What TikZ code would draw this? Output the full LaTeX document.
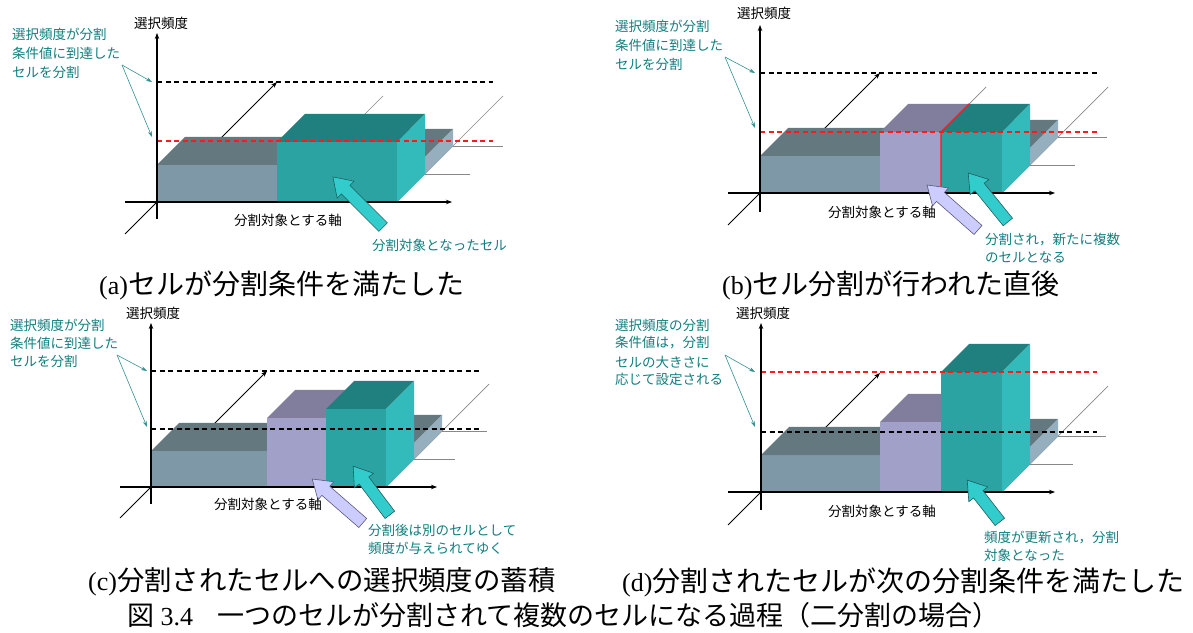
\documentclass[tikz,border=0pt]{standalone}
\usepackage{fontspec}
\setmainfont{Liberation Serif}
\newfontfamily\jp{Noto Sans CJK JP}
\usetikzlibrary{arrows.meta}
\definecolor{grayfront}{HTML}{7F98A8}
\definecolor{graytop}{HTML}{647880}
\definecolor{grayside}{HTML}{96AFBF}
\definecolor{tealfront}{HTML}{2CA3A3}
\definecolor{tealtop}{HTML}{207F7F}
\definecolor{tealside}{HTML}{33BBBB}
\definecolor{lavfront}{HTML}{A0A0C8}
\definecolor{lavtop}{HTML}{807E9C}
\definecolor{labteal}{HTML}{137E7E}
\definecolor{arrteal}{HTML}{33CCCC}
\definecolor{arrlav}{HTML}{CCCCFF}
\definecolor{tealdark}{HTML}{1D5F5F}
\definecolor{lavdark}{HTML}{5A5A7A}
\definecolor{gridgray}{HTML}{888888}
\definecolor{redline}{HTML}{FF1A1A}
\newcommand\cuboid[7]{%
 \fill[#5] ({#1+#4},{#4}) rectangle ({#2+#4},{#4+#3});
 \fill[#6] ({#1+#4},{#4+#3}) -- ({#1+#4+28},{#4+#3+28}) -- ({#2+#4+28},{#4+#3+28}) -- ({#2+#4},{#4+#3}) -- cycle;
 \fill[#7] ({#2+#4},{#4}) -- ({#2+#4+28},{#4+28}) -- ({#2+#4+28},{#4+#3+28}) -- ({#2+#4},{#4+#3}) -- cycle;}
% fat block arrow: centre x, centre y, angle, length, fill, outline
\newcommand\fatarr[6]{%
 \begin{scope}[shift={(#1,#2)},rotate=#3]
  \filldraw[fill=#5,draw=#6,line width=0.6pt,line join=miter] ({#4/2},0) -- ({#4/2-18},12) -- ({#4/2-18},6) -- ({-#4/2},6) -- ({-#4/2},-6) -- ({#4/2-18},-6) -- ({#4/2-18},-12) -- cycle;
 \end{scope}}
\newcommand\capt[3]{{\fontsize{26}{30}\selectfont #1}{\jp\fontsize{#3}{30}\selectfont #2}}
\tikzset{
 axisline/.style={line width=1.6pt,-{Stealth[length=6pt,width=4.5pt]}},
 depthaxis/.style={line width=1pt,-{Stealth[length=6pt,width=4.5pt]}},
 gridline/.style={gridgray,line width=0.7pt},
 dashblk/.style={dash pattern=on 5pt off 3.5pt,line width=1.1pt,black},
 dashrd/.style={dash pattern=on 5pt off 3.5pt,line width=1.1pt,redline},
 tarrow/.style={labteal!85,line width=0.6pt,-{Stealth[length=6pt,width=4pt]}},
 smalltxt/.style={font=\jp\fontsize{13.5}{16}\selectfont,inner sep=0pt},
 labtxt/.style={smalltxt,text=labteal,anchor=west},
 captxt/.style={inner sep=0pt,anchor=west}
}
\begin{document}
\begin{tikzpicture}[x=1pt,y=1pt]
\fill[white] (0,0) rectangle (1193,632);
\useasboundingbox (0,0) rectangle (1193,632);

% ---------- panel (a)
\begin{scope}[shift={(157,430)}]
 \draw[gridline] (120,0) -- (226,106);
 \draw[gridline] (240,0) -- (346,106);
 \draw[gridline] (268,28) -- (313,28);
 \draw[gridline] (296,56) -- (346,56);
 \draw[depthaxis] (-32,-32) -- (120,120);
 \cuboid{120}{240}{17}{28}{grayfront}{graytop}{grayside}
 \cuboid{0}{120}{37}{0}{grayfront}{graytop}{grayside}
 \cuboid{120}{240}{60}{0}{tealfront}{tealtop}{tealside}
 \draw[dashblk] (0,120) -- (336,120);
 \draw[dashrd] (0,61) -- (336,61);
 \draw[axisline] (0,-17) -- (0,169);
 \draw[axisline] (-32,0) -- (295,0);
 \fatarr{201}{0}{135}{71}{arrteal}{tealdark}
 \node[smalltxt] (a-ylab) at (4,179) {選択頻度};
 \node[smalltxt] (a-xlab) at (131,-18) {分割対象とする軸};
 \node[labtxt] (a-note) at (215,-43) {分割対象となったセル};
 \node[labtxt] (a-l1) at (-145,168) {選択頻度が分割};
 \node[labtxt] (a-l2) at (-145,149) {条件値に到達した};
 \node[labtxt] (a-l3) at (-145,130) {セルを分割};
 \coordinate (a-s) at (-35,137);
 \coordinate (a-e1) at (-5,120);
 \coordinate (a-e2) at (-5,65);
 \draw[tarrow] (a-s) -- (a-e1);
 \draw[tarrow] (a-s) -- (a-e2);
\end{scope}

% ---------- panel (b)
\begin{scope}[shift={(760,439)}]
 \draw[gridline] (120,0) -- (226,106);
 \draw[gridline] (242,0) -- (348,106);
 \draw[gridline] (270,28) -- (315,28);
 \draw[gridline] (298,56) -- (347,56);
 \draw[depthaxis] (-32,-32) -- (120,120);
 \cuboid{120}{242}{17}{28}{grayfront}{graytop}{grayside}
 \cuboid{0}{120}{37}{0}{grayfront}{graytop}{grayside}
 \cuboid{120}{181}{61}{0}{lavfront}{lavtop}{lavfront}
 \cuboid{181}{242}{61}{0}{tealfront}{tealtop}{tealside}
 \draw[redline,line width=1.2pt] (181,0) -- (181,61) -- (209,89);
 \draw[dashblk] (0,120) -- (337,120);
 \draw[dashrd] (0,61) -- (337,61);
 \draw[axisline] (0,-19) -- (0,168);
 \draw[axisline] (-32,0) -- (295,0);
 \fatarr{192.5}{-14.5}{138.6}{68}{arrlav}{lavdark}
 \fatarr{228}{-4.5}{129}{63}{arrteal}{tealdark}
 \node[smalltxt] (b-ylab) at (4,180) {選択頻度};
 \node[smalltxt] (b-xlab) at (122,-19) {分割対象とする軸};
 \node[labtxt] (b-n1) at (225,-47) {分割され，新たに複数};
 \node[labtxt] (b-n2) at (225,-64) {のセルとなる};
 \node[labtxt] (b-l1) at (-145,167) {選択頻度が分割};
 \node[labtxt] (b-l2) at (-145,148) {条件値に到達した};
 \node[labtxt] (b-l3) at (-145,129) {セルを分割};
 \coordinate (b-s) at (-35,136);
 \coordinate (b-e1) at (-5,120);
 \coordinate (b-e2) at (-5,65);
 \draw[tarrow] (b-s) -- (b-e1);
 \draw[tarrow] (b-s) -- (b-e2);
\end{scope}

% ---------- panel (c)
\begin{scope}[shift={(151,145)}]
 \draw[gridline] (116,0) -- (220,104);
 \draw[gridline] (235,0) -- (338,103);
 \draw[gridline] (263,28) -- (304,28);
 \draw[gridline] (291,56) -- (336,56);
 \draw[depthaxis] (-31,-31) -- (116,116);
 \cuboid{116}{235}{16}{28}{grayfront}{graytop}{grayside}
 \cuboid{0}{116}{36}{0}{grayfront}{graytop}{grayside}
 \cuboid{116}{175}{69}{0}{lavfront}{lavtop}{lavfront}
 \cuboid{175}{235}{78}{0}{tealfront}{tealtop}{tealside}
 \draw[dashblk] (0,116) -- (329,116);
 \draw[dashblk] (0,58) -- (329,58);
 \draw[axisline] (0,-17) -- (0,164);
 \draw[axisline] (-31,0) -- (286,0);
 \fatarr{186.5}{-14}{139}{67}{arrlav}{lavdark}
 \fatarr{220.5}{-3.5}{127}{61}{arrteal}{tealdark}
 \node[smalltxt] (c-ylab) at (2,174) {選択頻度};
 \node[smalltxt] (c-xlab) at (117,-17) {分割対象とする軸};
 \node[labtxt] (c-n1) at (217,-43) {分割後は別のセルとして};
 \node[labtxt] (c-n2) at (217,-61) {頻度が与えられてゆく};
 \node[labtxt] (c-l1) at (-141,162) {選択頻度が分割};
 \node[labtxt] (c-l2) at (-141,144) {条件値に到達した};
 \node[labtxt] (c-l3) at (-141,126) {セルを分割};
 \coordinate (c-s) at (-34,132);
 \coordinate (c-e1) at (-4,116);
 \coordinate (c-e2) at (-4,60);
 \draw[tarrow] (c-s) -- (c-e1);
 \draw[tarrow] (c-s) -- (c-e2);
\end{scope}

% ---------- panel (d)
\begin{scope}[shift={(761,140)}]
 \draw[gridline] (119,0) -- (225,106);
 \draw[gridline] (241,0) -- (347,106);
 \draw[gridline] (269,28) -- (312,28);
 \draw[gridline] (297,56) -- (345,56);
 \draw[depthaxis] (-33,-33) -- (119,119);
 \cuboid{119}{241}{17}{28}{grayfront}{graytop}{grayside}
 \cuboid{0}{119}{37}{0}{grayfront}{graytop}{grayside}
 \cuboid{119}{180}{70}{0}{lavfront}{lavtop}{lavfront}
 \cuboid{180}{241}{120}{0}{tealfront}{tealtop}{tealside}
 \draw[dashrd] (0,120) -- (336,120);
 \draw[dashblk] (0,60) -- (336,60);
 \draw[axisline] (0,-18) -- (0,169);
 \draw[axisline] (-33,0) -- (294,0);
 \fatarr{222.5}{-9}{128}{53}{arrteal}{tealdark}
 \node[smalltxt] (d-ylab) at (2,179) {選択頻度};
 \node[smalltxt] (d-xlab) at (121,-19) {分割対象とする軸};
 \node[labtxt] (d-n1) at (223,-46) {頻度が更新され，分割};
 \node[labtxt] (d-n2) at (223,-63) {対象となった};
 \node[labtxt] (d-l1) at (-146,167) {選択頻度の分割};
 \node[labtxt] (d-l2) at (-146,149) {条件値は，分割};
 \node[labtxt] (d-l3) at (-146,130) {セルの大きさに};
 \node[labtxt] (d-l4) at (-146,113) {応じて設定される};
 \coordinate (d-s) at (-36,137);
 \coordinate (d-e1) at (-6,120);
 \coordinate (d-e2) at (-6,65);
 \draw[tarrow] (d-s) -- (d-e1);
 \draw[tarrow] (d-s) -- (d-e2);
\end{scope}

% ---------- captions
\node[captxt] (capa) at (99,347) {\capt{(a)}{セルが分割条件を満たした}{28}};
\node[captxt] (capb) at (722,347) {\capt{(b)}{セル分割が行われた直後}{28}};
\node[captxt] (capc) at (88,50) {\capt{(c)}{分割されたセルへの選択頻度の蓄積}{27.4}};
\node[captxt] (capd) at (622,50) {\capt{(d)}{分割されたセルが次の分割条件を満たした}{28}};
\node[captxt] (capfig) at (127,17) {{\jp\fontsize{27}{30}\selectfont 図}{\fontsize{26}{30}\selectfont\ 3.4}\hspace{24pt}{\jp\fontsize{27}{30}\selectfont 一つのセルが分割されて複数のセルになる過程（二分割の場合）}};
\end{tikzpicture}
\end{document}
